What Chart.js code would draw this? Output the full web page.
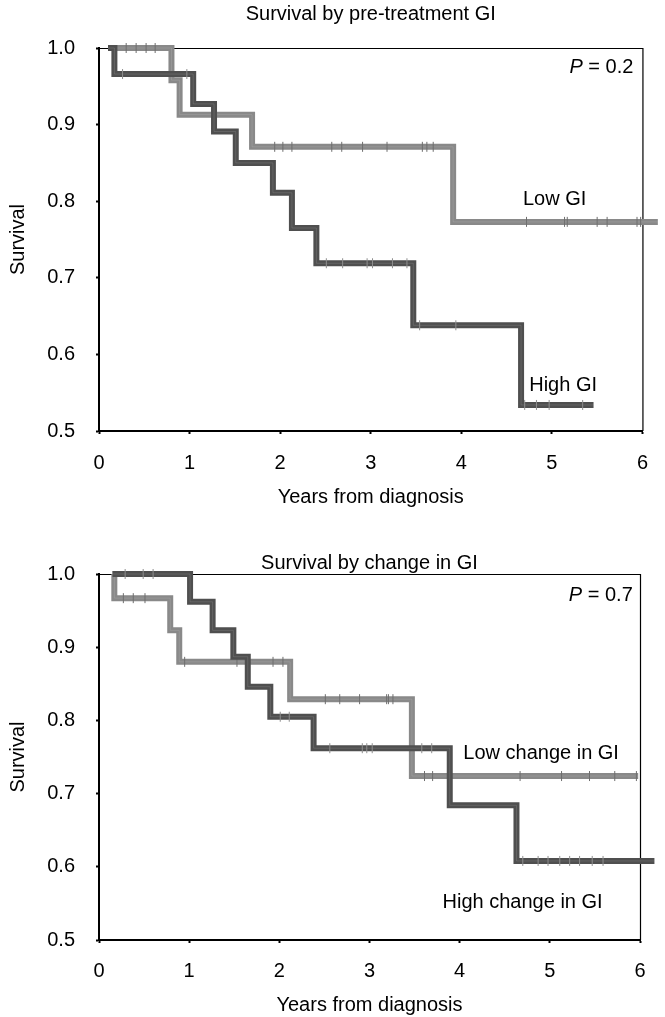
<!DOCTYPE html>
<html>
<head>
<meta charset="utf-8">
<script src="https://cdn.jsdelivr.net/npm/chart.js@4.4.1/dist/chart.umd.min.js"></script>
<style>
  html, body { margin: 0; padding: 0; background: #fff; }
  #wrap { position: relative; width: 665px; height: 1017px; }
  .panel { position: absolute; left: 0; width: 665px; }
  #p1 { top: 0; height: 510px; }
  #p2 { top: 510px; height: 507px; }
</style>
</head>
<body>
<div id="wrap">
  <div class="panel" id="p1"><canvas id="chartTop"></canvas></div>
  <div class="panel" id="p2"><canvas id="chartBottom"></canvas></div>
</div>
<script>
// top panel - survival by pre-treatment GI
const lowGiTimes = [0.10, 0.80, 0.89, 1.69, 3.91, 6.17];
const lowGiSurv = [1.000, 0.958, 0.913, 0.871, 0.773, 0.773];
const lowGiCensored = [0.30, 0.41, 0.52, 0.62, 1.94, 2.03, 2.13, 2.57, 2.68, 2.91, 3.18, 3.57, 3.62, 3.69, 4.72, 5.14, 5.17, 5.50, 5.61, 5.94, 5.98];

const highGiTimes = [0.10, 0.17, 1.04, 1.27, 1.51, 1.92, 2.13, 2.40, 3.47, 4.66, 5.46];
const highGiSurv = [1.000, 0.966, 0.927, 0.891, 0.850, 0.811, 0.765, 0.719, 0.638, 0.534, 0.534];
const highGiCensored = [0.26, 0.97, 2.51, 2.69, 2.96, 3.02, 3.24, 3.40, 3.54, 3.94, 4.70, 4.83, 4.97, 5.34];

// bottom panel - survival by change in GI
const lowChangeTimes = [0.15, 0.17, 0.79, 0.89, 2.12, 3.47, 5.98];
const lowChangeSurv = [1.000, 0.967, 0.923, 0.880, 0.829, 0.724, 0.724];
const lowChangeCensored = [0.27, 0.38, 0.51, 0.95, 1.53, 1.93, 2.04, 2.51, 2.67, 2.89, 3.19, 3.21, 3.26, 3.61, 3.70, 4.67, 5.13, 5.44, 5.72, 5.96];

const highChangeTimes = [0.15, 1.01, 1.26, 1.49, 1.65, 1.90, 2.38, 3.89, 4.63, 6.16];
const highChangeSurv = [1.000, 0.962, 0.923, 0.887, 0.846, 0.805, 0.762, 0.684, 0.608, 0.608];
const highChangeCensored = [0.29, 0.49, 0.60, 2.01, 2.11, 2.56, 2.92, 2.97, 3.03, 3.58, 3.69, 4.70, 4.87, 4.98, 5.11, 5.22, 5.33, 5.47, 5.59];

const xTicks = [0, 1, 2, 3, 4, 5, 6];
const yTicks = [0.5, 0.6, 0.7, 0.8, 0.9, 1.0];

const FONT = '"Liberation Sans", Arial, Helvetica, sans-serif';
const DARK = '#4f4f4f';
const LIGHT = '#898989';

Chart.defaults.font.family = FONT;
Chart.defaults.font.size = 20;
Chart.defaults.color = '#000';

function survivalAt(times, surv, t) {
    let s = surv[0];
    for (let i = 0; i < times.length; i++) {
        if (times[i] <= t) s = surv[i];
    }
    return s;
}

function curve(times, surv) {
    return times.map((t, i) => ({ x: t, y: surv[i] }));
}

function marks(times, surv, cens) {
    return cens.map(t => ({ x: t, y: survivalAt(times, surv, t) }));
}

// one group = thick step line + faint streak + censor ticks
function groupDatasets(times, surv, cens, color, tickColor, baseOrder) {
    return [
        {
            data: curve(times, surv),
            borderColor: color,
            borderWidth: 6,
            stepped: true,
            pointRadius: 0,
            clip: false,
            order: baseOrder + 2
        },
        {
            data: curve(times, surv),
            borderColor: 'rgba(255,255,255,0.12)',
            borderWidth: 1,
            stepped: true,
            pointRadius: 0,
            clip: false,
            order: baseOrder + 1
        },
        {
            data: marks(times, surv, cens),
            showLine: false,
            pointStyle: 'line',
            pointRotation: 90,
            pointRadius: 5,
            pointBorderWidth: 1,
            pointBorderColor: tickColor,
            pointHoverRadius: 5,
            clip: false,
            order: baseOrder
        }
    ];
}

// top and right sides of the frame (thin)
const framePlugin = {
    id: 'frame',
    beforeDatasetsDraw(chart) {
        const { ctx, chartArea: a } = chart;
        ctx.save();
        ctx.strokeStyle = '#000';
        ctx.lineWidth = 1.2;
        ctx.beginPath();
        ctx.moveTo(a.left, a.top + 0.5);
        ctx.lineTo(a.right + 0.5, a.top + 0.5);
        ctx.lineTo(a.right + 0.5, a.bottom);
        ctx.stroke();
        ctx.restore();
    }
};

// panel title centred over the plot, curve labels and P values
const notesPlugin = {
    id: 'notes',
    afterDraw(chart, args, opts) {
        const { ctx, scales, chartArea: a } = chart;
        ctx.save();
        ctx.fillStyle = '#000';
        ctx.textBaseline = 'middle';
        if (opts.title) {
            ctx.font = '20px ' + FONT;
            ctx.textAlign = 'center';
            ctx.fillText(opts.title, (a.left + a.right) / 2, opts.titleY);
        }
        (opts.items || []).forEach(n => {
            const px = scales.x.getPixelForValue(n.x);
            const py = scales.y.getPixelForValue(n.y);
            if (n.italic) {
                ctx.font = 'italic 20px ' + FONT;
                const w1 = ctx.measureText(n.italic).width;
                ctx.font = '20px ' + FONT;
                const w2 = ctx.measureText(n.text).width;
                const x0 = n.align === 'right' ? px - w1 - w2 : px;
                ctx.textAlign = 'left';
                ctx.font = 'italic 20px ' + FONT;
                ctx.fillText(n.italic, x0, py);
                ctx.font = '20px ' + FONT;
                ctx.fillText(n.text, x0 + w1, py);
            } else {
                ctx.font = '20px ' + FONT;
                ctx.textAlign = n.align || 'left';
                ctx.fillText(n.text, px, py);
            }
        });
        ctx.restore();
    }
};

function makeChart(canvasId, cfg) {
    return new Chart(document.getElementById(canvasId), {
        type: 'line',
        data: { datasets: cfg.datasets },
        options: {
            responsive: true,
            maintainAspectRatio: false,
            animation: false,
            devicePixelRatio: 1,
            layout: { padding: { left: 0, right: cfg.rightPad, top: cfg.topPad, bottom: 0 } },
            plugins: {
                legend: { display: false },
                tooltip: { enabled: false },
                title: { display: false },
                notes: { title: cfg.title, titleY: cfg.titleY, items: cfg.notes }
            },
            scales: {
                x: {
                    type: 'linear',
                    min: 0,
                    max: 6,
                    afterBuildTicks: s => { s.ticks = xTicks.map(v => ({ value: v })); },
                    afterFit: s => { s.height = cfg.xAxisHeight; },
                    ticks: { color: '#000', padding: cfg.xTickPad, font: { size: 20 }, callback: v => String(v) },
                    grid: { drawOnChartArea: false, drawTicks: true, tickLength: 3, tickWidth: 2, tickColor: '#000' },
                    border: { display: true, color: '#000', width: 2 },
                    title: {
                        display: true,
                        text: 'Years from diagnosis',
                        color: '#000',
                        font: { size: 20, lineHeight: 1 },
                        padding: { top: 0, bottom: cfg.xTitlePad }
                    }
                },
                y: {
                    type: 'linear',
                    min: 0.5,
                    max: 1.0,
                    afterBuildTicks: s => { s.ticks = yTicks.map(v => ({ value: v })); },
                    afterFit: s => { s.width = 99; },
                    ticks: { color: '#000', padding: 21, font: { size: 20 }, callback: v => Number(v).toFixed(1) },
                    grid: { drawOnChartArea: false, drawTicks: true, tickLength: 3, tickWidth: 2, tickColor: '#000' },
                    border: { display: true, color: '#000', width: 2 },
                    title: {
                        display: true,
                        text: 'Survival',
                        color: '#000',
                        font: { size: 20, lineHeight: 1 },
                        padding: { top: 8, bottom: 0 }
                    }
                }
            }
        },
        plugins: [framePlugin, notesPlugin]
    });
}

makeChart('chartTop', {
    title: 'Survival by pre-treatment GI',
    titleY: 14,
    topPad: 48,
    rightPad: 21,
    xAxisHeight: 79,
    xTickPad: 17,
    xTitlePad: 3,
    datasets: [
        ...groupDatasets(lowGiTimes, lowGiSurv, lowGiCensored, LIGHT, '#6e6e6e', 4),
        ...groupDatasets(highGiTimes, highGiSurv, highGiCensored, DARK, '#8e8e8e', 1)
    ],
    notes: [
        { italic: 'P', text: ' = 0.2', x: 5.90, y: 0.975, align: 'right' },
        { text: 'Low GI', x: 4.68, y: 0.802 },
        { text: 'High GI', x: 4.75, y: 0.560 }
    ]
});

makeChart('chartBottom', {
    title: 'Survival by change in GI',
    titleY: 53,
    topPad: 64,
    rightPad: 25,
    xAxisHeight: 77,
    xTickPad: 16,
    xTitlePad: 2,
    datasets: [
        ...groupDatasets(lowChangeTimes, lowChangeSurv, lowChangeCensored, LIGHT, '#6e6e6e', 4),
        ...groupDatasets(highChangeTimes, highChangeSurv, highChangeCensored, DARK, '#8e8e8e', 1)
    ],
    notes: [
        { italic: 'P', text: ' = 0.7', x: 5.92, y: 0.971, align: 'right' },
        { text: 'Low change in GI', x: 4.04, y: 0.755 },
        { text: 'High change in GI', x: 3.81, y: 0.551 }
    ]
});
</script>
</body>
</html>
